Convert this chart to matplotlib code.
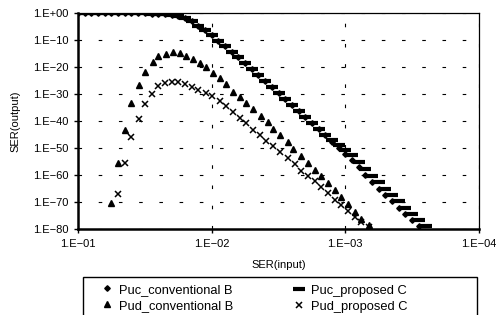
import numpy as np
import matplotlib
matplotlib.use("Agg")
import matplotlib.pyplot as plt
from matplotlib.patches import Rectangle
from matplotlib.ticker import FixedLocator, NullLocator, FuncFormatter

plt.rcParams['font.family'] = ['Liberation Sans', 'DejaVu Sans']

# values, stored as log10 exponents
puc_conv_x = [-1.00, -1.05, -1.10, -1.15, -1.20, -1.25, -1.30, -1.35, -1.40, -1.45,
              -1.50, -1.55, -1.60, -1.65, -1.70, -1.75, -1.80, -1.85, -1.90, -1.95,
              -2.00, -2.05, -2.10, -2.15, -2.20, -2.25, -2.30, -2.35, -2.40, -2.45,
              -2.50, -2.55, -2.60, -2.65, -2.70, -2.75, -2.80, -2.85, -2.90, -2.95,
              -3.00, -3.05, -3.10, -3.15, -3.20, -3.25, -3.30, -3.35, -3.40, -3.45,
              -3.50, -3.55]
puc_conv_y = [0, 0, 0, 0, 0, 0, 0, 0, 0, -0.1,
              -0.1, -0.2, -0.3, -0.4, -0.6, -1.0, -1.8, -3.1, -4.7, -6.4,
              -8.2, -10.2, -12.3, -14.4, -16.4, -18.5, -20.6, -22.8, -25.0, -27.3,
              -29.6, -31.8, -34.0, -36.2, -38.6, -40.8, -43.0, -45.3, -47.6, -49.9,
              -52.1, -54.3, -57.0, -59.9, -62.5, -65.0, -67.5, -69.8, -72.2, -74.5,
              -76.7, -78.9]

puc_prop_x = [-1.00, -1.05, -1.10, -1.15, -1.20, -1.25, -1.30, -1.35, -1.40, -1.45,
              -1.50, -1.55, -1.60, -1.65, -1.70, -1.75, -1.80, -1.85, -1.90, -1.95,
              -2.00, -2.05, -2.10, -2.15, -2.20, -2.25, -2.30, -2.35, -2.40, -2.45,
              -2.50, -2.55, -2.60, -2.65, -2.70, -2.75, -2.80, -2.85, -2.90, -2.95,
              -3.00, -3.05, -3.10, -3.15, -3.20, -3.25, -3.30, -3.35, -3.40, -3.45,
              -3.50, -3.55, -3.60]
puc_prop_y = [0, 0, 0, 0, 0, 0, 0, 0, 0, -0.1,
              -0.1, -0.2, -0.3, -0.4, -0.6, -1.0, -1.8, -3.1, -4.7, -6.4,
              -8.2, -10.2, -12.3, -14.4, -16.4, -18.5, -20.6, -22.8, -25.0, -27.3,
              -29.6, -31.8, -34.0, -36.2, -38.6, -40.8, -43.0, -45.0, -47.0, -48.9,
              -50.8, -52.7, -55.1, -57.8, -60.3, -62.7, -65.2, -67.4, -69.8, -72.1,
              -74.3, -76.5, -78.8]

pud_conv_x = [-1.25, -1.30, -1.35, -1.40, -1.46, -1.50, -1.56, -1.60, -1.66, -1.71,
              -1.76, -1.81, -1.86, -1.91, -1.96, -2.01, -2.06, -2.11, -2.16, -2.21,
              -2.26, -2.31, -2.37, -2.42, -2.46, -2.51, -2.57, -2.61, -2.67, -2.72,
              -2.77, -2.82, -2.87, -2.92, -2.97, -3.02, -3.07, -3.12, -3.18]
pud_conv_y = [-70.4, -55.4, -43.2, -33.5, -26.7, -22.0, -18.2, -16.1, -15.1, -14.5,
              -14.9, -16.0, -17.0, -18.5, -20.1, -22.2, -24.1, -26.4, -29.1, -31.1,
              -33.2, -35.7, -38.2, -40.4, -42.9, -45.3, -47.8, -50.3, -52.8, -55.4,
              -58.1, -60.4, -63.1, -65.6, -68.3, -70.8, -73.7, -76.2, -78.7]

pud_prop_x = [-1.30, -1.35, -1.40, -1.46, -1.50, -1.55, -1.60, -1.65, -1.70, -1.75,
              -1.80, -1.85, -1.90, -1.96, -2.00, -2.06, -2.11, -2.16, -2.21, -2.26,
              -2.31, -2.36, -2.41, -2.46, -2.51, -2.57, -2.62, -2.67, -2.72, -2.77,
              -2.82, -2.87, -2.92, -2.97, -3.02, -3.07, -3.12, -3.18]
pud_prop_y = [-67.1, -55.4, -45.9, -39.4, -33.8, -30.1, -27.0, -26.1, -25.5, -25.7,
              -26.4, -27.4, -28.5, -29.5, -30.7, -32.6, -34.5, -36.5, -38.8, -40.9,
              -43.2, -45.3, -47.3, -49.4, -51.5, -53.8, -56.0, -58.4, -60.3, -62.2,
              -64.6, -66.6, -69.1, -71.2, -73.3, -75.6, -77.5, -79.1]

y_ticks = [0, -10, -20, -30, -40, -50, -60, -70, -80]
x_ticks = [-1, -2, -3, -4]


def p10(a):
    return 10.0 ** np.array(a, dtype=float)


def exp_label(v, pos):
    e = int(round(np.log10(v)))
    if e == 0:
        return "1.E+00"
    return "1.E\u2212%02d" % abs(e)


fig = plt.figure(figsize=(4.96, 3.15), dpi=100)
ax = fig.add_axes([78 / 496, 1 - 229 / 315, 401 / 496, 216 / 315])

h1, = ax.plot(p10(puc_conv_x), p10(puc_conv_y), ls='none', marker='D', ms=2.8,
              color='black', label='Puc_conventional B')
h2, = ax.plot(p10(pud_conv_x), p10(pud_conv_y), ls='none', marker='^', ms=4.8,
              color='black', label='Pud_conventional B')
h3, = ax.plot(p10(puc_prop_x), p10(puc_prop_y), ls='none', marker='_', ms=8, mew=3,
              color='black', label='Puc_proposed C')
h4, = ax.plot(p10(pud_prop_x), p10(pud_prop_y), ls='none', marker='x', ms=4, mew=1.1,
              color='black', label='Pud_proposed C')

ax.set_xscale('log')
ax.set_yscale('log')
ax.set_xlim(1e-1, 1e-4)
ax.set_ylim(1e-80, 1e0)

ax.yaxis.set_major_locator(FixedLocator(list(p10(y_ticks))))
ax.xaxis.set_major_locator(FixedLocator(list(p10(x_ticks))))
ax.yaxis.set_minor_locator(NullLocator())
ax.xaxis.set_minor_locator(NullLocator())
ax.yaxis.set_major_formatter(FuncFormatter(exp_label))
ax.xaxis.set_major_formatter(FuncFormatter(exp_label))
ax.tick_params(labelsize=8, length=3, width=1, direction='out', pad=4)

ax.grid(True, which='major', color='black', lw=0.8, dashes=(3.2, 15))

for side in ['left', 'bottom']:
    ax.spines[side].set_linewidth(1.8)
for side in ['top', 'right']:
    ax.spines[side].set_linewidth(0.9)

ax.set_xlabel("SER(input)", fontsize=8, labelpad=8)
ax.set_ylabel("SER(output)", fontsize=8, labelpad=9)

# legend box (drawn separately so it can be wider than the entries)
fig.patches.append(Rectangle((83 / 496, -0.02), 394 / 496, 1.02 - 277 / 315,
                             transform=fig.transFigure, fill=False,
                             edgecolor='black', lw=1.0))
leg_kw = dict(loc='upper left', fontsize=9.3, frameon=False, borderaxespad=0,
              handlelength=0.8, handletextpad=0.5, labelspacing=0.2,
              borderpad=0, handleheight=1.0)
fig.legend(handles=[h1, h2], bbox_to_anchor=(102 / 496, 1 - 283 / 315), **leg_kw)
fig.legend(handles=[h3, h4], bbox_to_anchor=(294 / 496, 1 - 284 / 315), **leg_kw)

fig.savefig("out.png", dpi=100)
